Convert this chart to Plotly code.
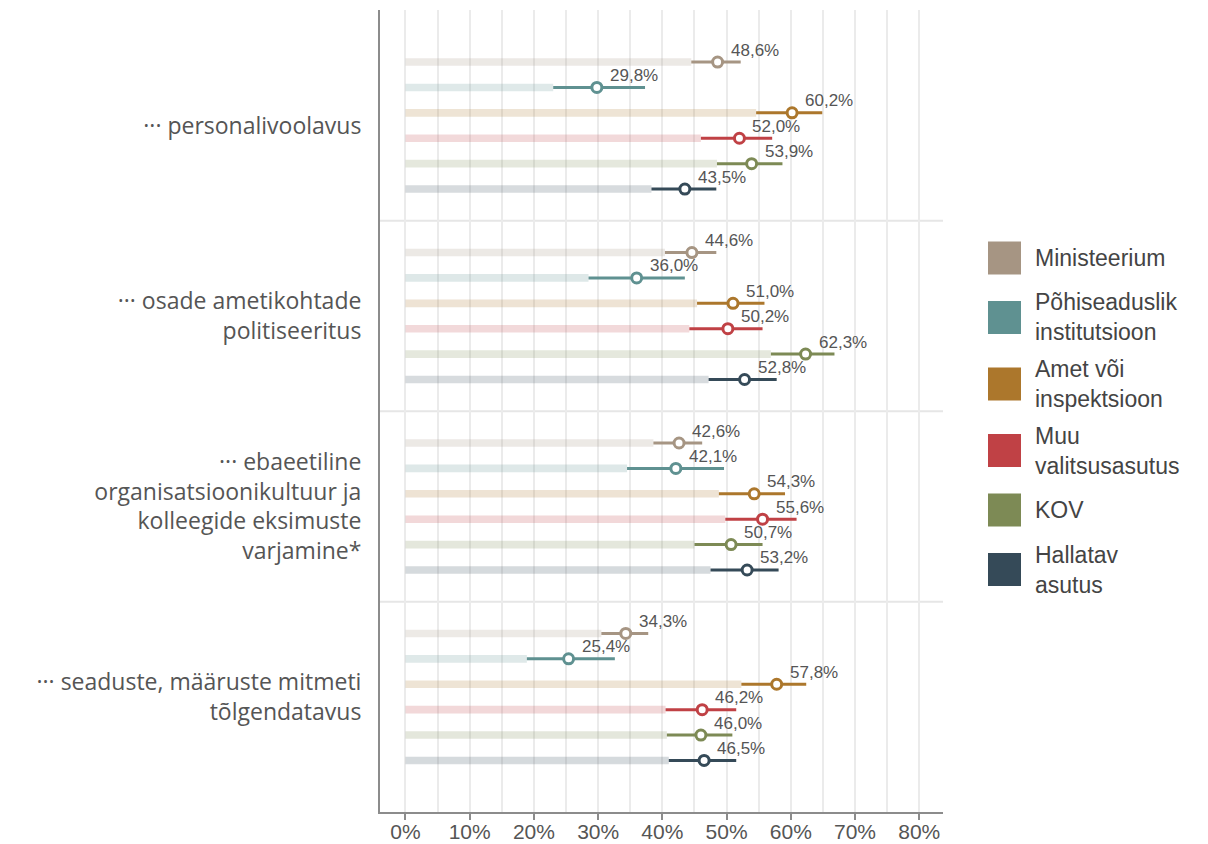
import plotly.graph_objects as go

categories = [
    "··· personalivoolavus",
    "··· osade ametikohtade<br>politiseeritus",
    "··· ebaeetiline<br>organisatsioonikultuur ja<br>kolleegide eksimuste<br>varjamine*",
    "··· seaduste, määruste mitmeti<br>tõlgendatavus",
]

series_names = [
    "Ministeerium",
    "Põhiseaduslik<br>institutsioon",
    "Amet või<br>inspektsioon",
    "Muu<br>valitsusasutus",
    "KOV",
    "Hallatav<br>asutus",
]
series_colors = ["#a69583", "#5f9191", "#ac772c", "#c04145", "#7d8a55", "#354a58"]

# point estimates (%) for each category
ministeerium = [48.6, 44.6, 42.6, 34.3]
pohiseaduslik = [29.8, 36.0, 42.1, 25.4]
amet = [60.2, 51.0, 54.3, 57.8]
muu = [52.0, 50.2, 55.6, 46.2]
kov = [53.9, 62.3, 50.7, 46.0]
hallatav = [43.5, 52.8, 53.2, 46.5]

# confidence interval bounds (%)
ministeerium_lo = [44.5, 40.4, 38.6, 30.5]
ministeerium_hi = [52.2, 48.4, 46.2, 37.8]
pohiseaduslik_lo = [23.0, 28.5, 34.5, 18.9]
pohiseaduslik_hi = [37.3, 43.5, 49.6, 32.6]
amet_lo = [54.6, 45.4, 48.8, 52.3]
amet_hi = [64.9, 55.9, 59.1, 62.4]
muu_lo = [46.0, 44.2, 49.8, 40.5]
muu_hi = [57.1, 55.6, 60.9, 51.5]
kov_lo = [48.5, 56.9, 45.0, 40.7]
kov_hi = [58.7, 66.8, 55.6, 50.9]
hallatav_lo = [38.3, 47.2, 47.5, 41.0]
hallatav_hi = [48.4, 57.8, 58.1, 51.5]

values = [ministeerium, pohiseaduslik, amet, muu, kov, hallatav]
lows = [ministeerium_lo, pohiseaduslik_lo, amet_lo, muu_lo, kov_lo, hallatav_lo]
highs = [ministeerium_hi, pohiseaduslik_hi, amet_hi, muu_hi, kov_hi, hallatav_hi]

GROUP = 7.5  # rows per category block (6 series + gap)

# page has an 8px body margin, so the figure is a bit smaller than the window
OFF = 8
W, H = 1200, 836
# plot area in screen pixels
L, R, T, B = 380, 943, 10, 812


def px(x):
    return (x - L) / (R - L)


def py(y):
    return (B - y) / (B - T)


fig = go.Figure()
annotations = []

for s, (name, color) in enumerate(zip(series_names, series_colors)):
    rows = [g * GROUP + s for g in range(len(categories))]
    fig.add_trace(
        go.Bar(
            x=lows[s],
            y=rows,
            orientation="h",
            width=0.3,
            marker=dict(color=color, line=dict(width=0)),
            opacity=0.2,
            hoverinfo="skip",
        )
    )
    ex, ey = [], []
    for lo, hi, r in zip(lows[s], highs[s], rows):
        ex += [lo, hi, None]
        ey += [r, r, None]
    fig.add_trace(
        go.Scatter(x=ex, y=ey, mode="lines", line=dict(color=color, width=3), hoverinfo="skip")
    )
    fig.add_trace(
        go.Scatter(
            x=values[s],
            y=rows,
            mode="markers",
            marker=dict(
                symbol="circle", size=10, color="white", line=dict(color=color, width=3)
            ),
            name=name,
        )
    )
    for v, r in zip(values[s], rows):
        annotations.append(
            dict(
                x=v,
                y=r,
                xref="x",
                yref="y",
                text=f"{v:.1f}".replace(".", ",") + "%",
                showarrow=False,
                xanchor="left",
                yanchor="middle",
                xshift=11,
                yshift=12,
                font=dict(family="Liberation Sans", size=17, color="#555555"),
            )
        )

# manual legend with large colour squares
shapes = []
half = {1: 26.5, 2: 33.5}
cy = 258
prev = None
for name, color in zip(series_names, series_colors):
    lines = name.count("<br>") + 1
    if prev is not None:
        cy += half[prev] + half[lines] - 0.5
    prev = lines
    shapes.append(
        dict(
            type="rect",
            xref="paper",
            yref="paper",
            x0=px(988),
            x1=px(1021),
            y0=py(cy + 16.5),
            y1=py(cy - 16.5),
            fillcolor=color,
            line=dict(width=0),
        )
    )
    annotations.append(
        dict(
            x=px(1033),
            y=py(cy),
            xref="paper",
            yref="paper",
            text=name,
            showarrow=False,
            xanchor="left",
            yanchor="middle",
            align="left",
            font=dict(family="Liberation Sans", size=23, color="#444444"),
        )
    )

# separators between category blocks
for g in range(1, len(categories)):
    y = g * GROUP - 1.25
    shapes.append(
        dict(
            type="line",
            xref="paper",
            yref="y",
            x0=0,
            x1=1,
            y0=y,
            y1=y,
            line=dict(color="#e6e6e6", width=2),
            layer="below",
        )
    )

fig.update_layout(
    width=W,
    height=H,
    margin=dict(l=L - OFF, r=W - (R - OFF), t=T - OFF, b=H - (B - OFF), autoexpand=False),
    plot_bgcolor="white",
    paper_bgcolor="white",
    barmode="overlay",
    showlegend=False,
    shapes=shapes,
    annotations=annotations,
)

fig.update_xaxes(
    range=[-3.97, 83.7],
    dtick=10,
    tick0=0,
    ticksuffix="%",
    showgrid=True,
    gridcolor="#ebebeb",
    gridwidth=1.5,
    minor=dict(dtick=5, tick0=0, showgrid=True, gridcolor="#ebebeb", gridwidth=1.5),
    showline=True,
    linecolor="#8c8c8c",
    linewidth=2,
    ticks="outside",
    ticklen=6,
    tickwidth=2,
    tickcolor="#8c8c8c",
    zeroline=False,
    automargin=False,
    ticklabelstandoff=-6,
    tickfont=dict(family="Liberation Sans", size=21, color="#555555"),
)

fig.update_yaxes(
    range=[(len(categories) - 1) * GROUP + 5 + 2.03, -2.05],
    tickvals=[g * GROUP + 2.5 for g in range(len(categories))],
    ticktext=categories,
    showgrid=False,
    zeroline=False,
    showline=True,
    linecolor="#8c8c8c",
    linewidth=2,
    ticks="",
    ticklabelstandoff=12,
    automargin=False,
    tickfont=dict(family="Open Sans", size=23, color="#555555"),
)

fig.write_html("out.html")
